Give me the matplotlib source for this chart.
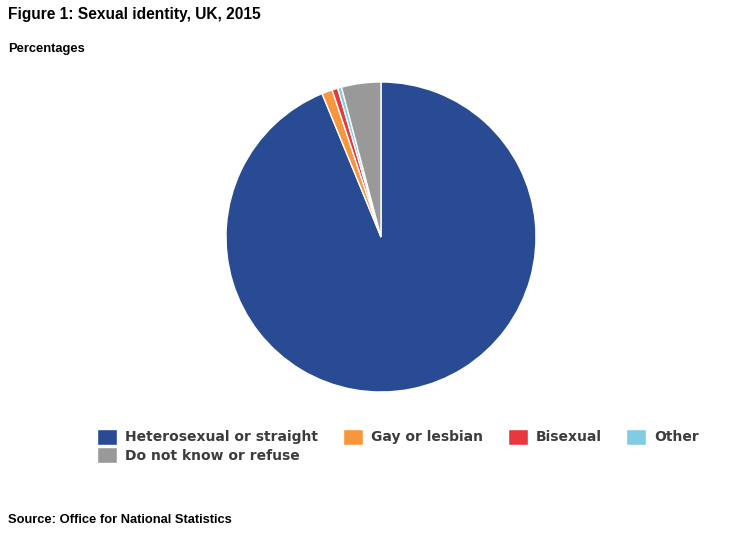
import matplotlib
matplotlib.use('Agg')
import matplotlib.pyplot as plt

# data (ONS 2015, percentages)
labels = ['Heterosexual or straight', 'Gay or lesbian', 'Bisexual', 'Other', 'Do not know or refuse']
values = [93.7, 1.1, 0.6, 0.4, 4.1]
colors = ['#294b93', '#f8963e', '#e8383d', '#7fcce3', '#999999']

fig = plt.figure(figsize=(7.5, 5.46), dpi=100)
W, H = 750, 546

# pie centre (381, 237) px, radius 155 px
cx, cy, r = 381, 237, 155
ax = fig.add_axes([(cx - r) / W, (H - cy - r) / H, 2 * r / W, 2 * r / H])
wedges, _ = ax.pie(values, colors=colors, startangle=90, counterclock=False,
                   wedgeprops=dict(edgecolor='white', linewidth=1.0))
ax.set_xlim(-1, 1)
ax.set_ylim(-1, 1)
ax.set_aspect('equal')

# legend: column-wise fill, so put the 5th item second
order = [0, 4, 1, 2, 3]
fig.legend([wedges[i] for i in order], [labels[i] for i in order],
           ncol=4, loc='upper left', bbox_to_anchor=(97 / W, 1 - 429 / H),
           frameon=False, prop=dict(family='DejaVu Sans', weight='bold', size=10),
           labelcolor='#3c3c3c', handlelength=1.45, handleheight=1.35,
           handletextpad=0.55, columnspacing=1.8, labelspacing=0.18,
           borderpad=0, borderaxespad=0)

# texts
fig.text(8 / W, 1 - 14 / H, 'Figure 1: Sexual identity, UK, 2015', family='Liberation Sans',
         weight='bold', size=11.2, va='center', ha='left')
fig.text(8 / W, 1 - 49 / H, 'Percentages', family='Liberation Sans',
         weight='bold', size=9.3, va='center', ha='left')
fig.text(8 / W, 1 - 520 / H, 'Source: Office for National Statistics', family='Liberation Sans',
         weight='bold', size=9.25, va='center', ha='left')

fig.savefig('out.png', dpi=100)
